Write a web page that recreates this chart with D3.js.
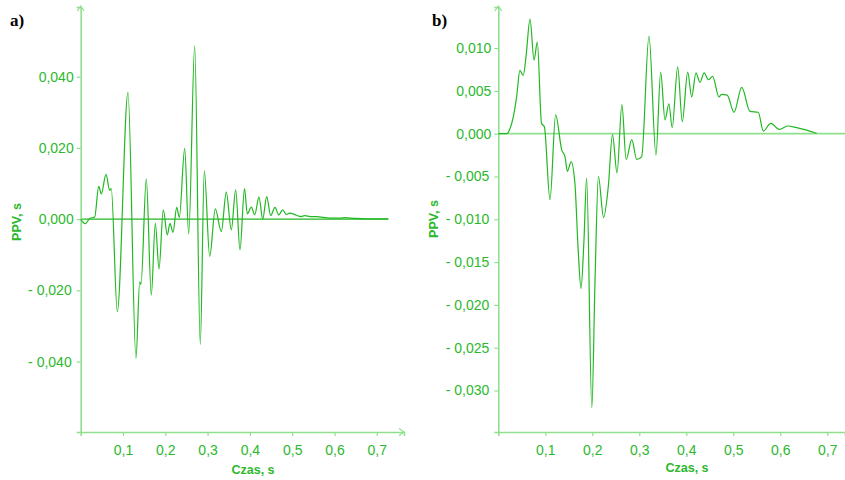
<!DOCTYPE html>
<html>
<head>
<meta charset="utf-8">
<script src="https://cdn.jsdelivr.net/npm/d3@7"></script>
<style>
  body{margin:0;background:#fff;}
  svg{display:block;}
</style>
</head>
<body>
<main></main>
<script>
// panel a) - time [s] and PPV values
const timeA=[0,0.0109,0.0213,0.0331,0.0426,0.0487,0.0598,0.0686,0.0723,0.0865,0.1118,0.1307,0.1395,0.1425,0.1551,0.1669,0.1764,0.1851,0.1953,0.2047,0.2111,0.2182,0.2270,0.2331,0.2459,0.2553,0.2695,0.2827,0.2922,0.3050,0.3182,0.3324,0.3442,0.3560,0.3664,0.3766,0.3872,0.3939,0.4033,0.4113,0.4215,0.4303,0.4397,0.4492,0.4593,0.4681,0.4775,0.4862,0.4940,0.5098,0.5200,0.5295,0.5452,0.5570,0.5894,0.6130,0.6248,0.6485,0.6839,0.7272]
const ppvA=[0,-0.0013,0.0002,0.0006,0.0092,0.0071,0.0126,0.0081,0.0086,-0.026,0.0356,-0.0391,-0.0176,-0.0183,0.0113,-0.0213,-0.0012,-0.014,0.0026,-0.0044,-0.0012,-0.0037,0.0033,0.0005,0.0199,-0.0042,0.0487,-0.0352,0.0136,-0.0105,0.0029,-0.0035,0.0076,-0.003,0.0082,-0.0086,0.0086,0.0015,0.0034,0.0012,0.0062,0.0000,0.0063,0.0010,0.0033,0.0012,0.0026,0.0013,0.0017,0.0011,0.0007,0.0010,0.0007,0.0007,0.0003,0.0003,0.0004,0.0002,0.0001,0.0001]
const yTicksA=[0.04,0.02,0,-0.02,-0.04]

// panel b)
const timeB=[0,0.018,0.025,0.032,0.039,0.046,0.053,0.059,0.0675,0.076,0.083,0.092,0.098,0.110,0.122,0.135,0.142,0.147,0.155,0.163,0.170,0.176,0.182,0.188,0.199,0.206,0.213,0.224,0.234,0.243,0.2526,0.263,0.272,0.284,0.2945,0.305,0.3206,0.3355,0.3455,0.3547,0.363,0.370,0.3817,0.3915,0.403,0.4115,0.4206,0.429,0.438,0.447,0.456,0.4696,0.475,0.487,0.5015,0.518,0.5355,0.553,0.564,0.5796,0.598,0.6157,0.635,0.6775]
const ppvB=[0,0,0.0006,0.002,0.0043,0.0074,0.0068,0.009,0.0134,0.0086,0.0107,0.0012,0.0008,-0.0077,0.0022,-0.0019,-0.0027,-0.0044,-0.0033,-0.0058,-0.0136,-0.0181,-0.0128,-0.0052,-0.032,-0.0167,-0.005,-0.0098,-0.0062,-0.0001,-0.0046,0.0034,-0.003,-0.0007,-0.003,-0.0027,0.0114,-0.0025,0.0072,0.0016,0.0035,0.0007,0.0078,0.0014,0.0072,0.0043,0.0071,0.006,0.0071,0.0063,0.0067,0.0043,0.0046,0.0045,0.0025,0.0054,0.0026,0.0025,0.0003,0.0012,0.0005,0.0009,0.0007,0.00005]
const yTicksB=[0.01,0.005,0,-0.005,-0.01,-0.015,-0.02,-0.025,-0.03]

const xTicks=[0.1,0.2,0.3,0.4,0.5,0.6,0.7]

const w=845, h=480
const axisCol="#8ee08e", lineCol="#22b822", textCol="#2cb82c"
const pl=d3.formatLocale({decimal:",",thousands:" ",grouping:[3],currency:["",""],minus:"-"})
const f3=pl.format(".3f")
const yFmt=d=>d<0 ? "- "+f3(-d) : f3(d)

const svg=d3.select("main")
  .append("svg")
  .attr("width",w)
  .attr("height",h)
  .style("font-family","'Liberation Sans', Arial, sans-serif")

function panel(o){
  const x=d3.scaleLinear().domain(o.xDom).range(o.xRange)
  const y=d3.scaleLinear().domain(o.yDom).range([432,7])
  const g=svg.append("g")

  // zero line
  g.append("line")
    .attr("x1",x(0)).attr("x2",o.zeroEnd(x))
    .attr("y1",y(0)).attr("y2",y(0))
    .attr("stroke",o.zeroCol).attr("stroke-width",o.zeroW)

  const xAxis=d3.axisBottom(x).tickValues(xTicks).tickFormat(pl.format(".1f")).tickSizeOuter(0).tickSize(4).tickPadding(6)
  const yAxis=d3.axisLeft(y).tickValues(o.yTicks).tickFormat(yFmt).tickSizeOuter(0).tickSize(4).tickPadding(2)

  const gx=g.append("g").attr("transform","translate(0,432)").call(xAxis)
  const gy=g.append("g").attr("transform","translate("+x(0)+",0)").call(yAxis)
  ;[gx,gy].forEach(a=>{
    a.select(".domain").attr("stroke",axisCol).attr("stroke-width",1.6)
    a.selectAll(".tick line").attr("stroke",axisCol).attr("stroke-width",1.2)
    a.selectAll(".tick text").attr("fill",textCol).style("font-size","14px").style("font-family","'Liberation Sans', Arial, sans-serif")
  })
  gx.selectAll(".tick text").attr("dy","0.9em")
  gy.selectAll(".tick text").attr("dx",d=>d<0?"-3px":"-1px").style("white-space","pre")

  // arrow heads
  const ax=x(0)
  g.append("path").attr("d","M"+(ax-3.5)+",11 L"+ax+",6 L"+(ax+3.5)+",11")
    .attr("fill","none").attr("stroke",axisCol).attr("stroke-width",1.2)
  if(o.arrowX){
    const rx=o.xRange[1]
    g.append("path").attr("d","M"+(rx-5)+",428.5 L"+rx+",432 L"+(rx-5)+",435.5")
      .attr("fill","none").attr("stroke",axisCol).attr("stroke-width",1.2)
  }

  const line=d3.line().x(d=>x(d[0])).y(d=>y(d[1])).curve(d3.curveMonotoneX)
  g.append("path")
    .datum(o.t.map((t,i)=>[t,o.v[i]]))
    .attr("d",line)
    .attr("fill","none")
    .attr("stroke",lineCol)
    .attr("stroke-width",1.2)

  g.append("text")
    .attr("transform","translate("+o.yLabX+","+o.yLabY+") rotate(-90)")
    .attr("text-anchor","middle")
    .attr("fill",textCol)
    .style("font-size","12.5px").style("font-weight","bold")
    .text("PPV, s")
  g.append("text")
    .attr("x",o.xLabX).attr("y",o.xLabY)
    .attr("text-anchor","middle")
    .attr("fill",textCol)
    .style("font-size","12.5px").style("font-weight","bold")
    .text("Czas, s")
  g.append("text")
    .attr("x",o.tagX).attr("y",26)
    .attr("fill","#000")
    .style("font-family","'Liberation Serif','Times New Roman',serif")
    .style("font-size","17px").style("font-weight","bold")
    .text(o.tag)
}

panel({
  t:timeA, v:ppvA, yTicks:yTicksA,
  xDom:[0,0.7643], xRange:[80.7,404],
  yDom:[-0.0598,0.0596],
  zeroEnd:x=>x(timeA[timeA.length-1]), zeroCol:lineCol, zeroW:1.2,
  arrowX:true,
  yLabX:21, yLabY:222, xLabX:253, xLabY:474,
  tagX:10, tag:"a)"
})
panel({
  t:timeB, v:ppvB, yTicks:yTicksB,
  xDom:[0,0.7377], xRange:[498.3,845],
  yDom:[-0.03485,0.0148],
  zeroEnd:()=>845, zeroCol:axisCol, zeroW:1.8,
  arrowX:false,
  yLabX:438, yLabY:219, xLabX:687, xLabY:472,
  tagX:432, tag:"b)"
})
</script>
</body>
</html>
